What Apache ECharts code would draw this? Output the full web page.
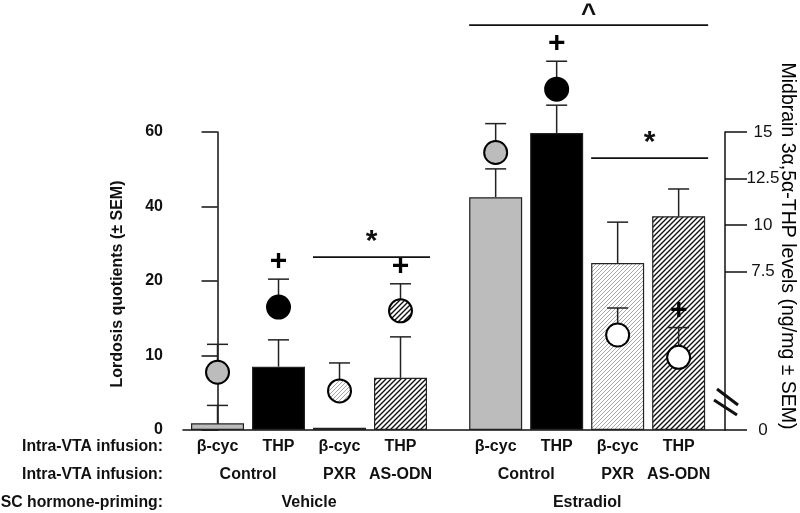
<!DOCTYPE html>
<html>
<head>
<meta charset="utf-8">
<script src="https://cdn.jsdelivr.net/npm/echarts@6/dist/echarts.min.js"></script>
<style>
html, body { margin: 0; padding: 0; background: #fff; }
#chart { width: 800px; height: 513px; }
</style>
</head>
<body>
<div id="chart"></div>
<script>
// groups under the bars
var infusions = ['β-cyc', 'THP', 'β-cyc', 'THP', 'β-cyc', 'THP', 'β-cyc', 'THP']
var treatments = ['Control', 'PXR', 'AS-ODN', 'Control', 'PXR', 'AS-ODN']
var treatmentSlots = [[0, 1], [2], [3], [4, 5], [6], [7]]
var primings = ['Vehicle', 'Estradiol']
var primingSlots = [[0, 1, 2, 3], [4, 5, 6, 7]]

// lordosis quotients (bars, left axis)
var lqMean = [0.9, 8.5, 0.3, 7.0, 42.5, 59.7, 24.8, 37.4]
var lqSem = [2.4, 3.6, 0, 5.5, 7.6, 7.5, 11.0, 7.3]
// midbrain 3a,5a-THP (circles, right axis)
var thpMean = [2.1, 5.6, 1.1, 5.4, 13.9, 17.3, 4.1, 2.9]
var thpSem = [1.5, 1.5, 1.5, 1.45, 1.55, 1.5, 1.45, 1.6]
var thpMarks = ['', '+', '', '+', '', '+', '', '+']

var lqTicks = [0, 10, 20, 40, 60]
var thpTicks = [0, 7.5, 10, 12.5, 15]

// [first slot, last slot, level (LQ), mark]
var brackets = [
	[2, 3, 26.4, '*'],
	[6, 7, 53, '*'],
	[4, 7, 88.7, '^']
]

var FONT = '"Liberation Sans", Arial, sans-serif'
var GROUP_GAP = 0.56
var THP_MIN = -1 // axis is broken below 7.5, "0" sits on the baseline
var BAR_W = 53

function slotX (i) {
	return i + (i >= 4 ? GROUP_GAP : 0)
}
function mid (slots) {
	var s = 0
	slots.forEach(function (i) { s += slotX(i) })
	return s / slots.length
}
// left axis is piecewise: ticks 0,10,20,40,60 equally spaced
function lqPos (v) {
	var n = lqTicks.length
	for (var i = 0; i < n - 1; i++) {
		if (v <= lqTicks[i + 1] || i === n - 2) {
			return i + (v - lqTicks[i]) / (lqTicks[i + 1] - lqTicks[i])
		}
	}
}

function hatch (stroke, width, step) {
	var c = document.createElement('canvas')
	c.width = step
	c.height = step
	var g = c.getContext('2d')
	g.fillStyle = '#fff'
	g.fillRect(0, 0, step, step)
	g.strokeStyle = stroke
	g.lineWidth = width
	g.beginPath()
	g.moveTo(-1, step + 1); g.lineTo(step + 1, -1)
	g.moveTo(-1, 1); g.lineTo(1, -1)
	g.moveTo(step - 1, step + 1); g.lineTo(step + 1, step - 1)
	g.stroke()
	return { image: c, repeat: 'repeat' }
}

var gray = '#bcbcbc'
var black = '#000'
var light = hatch('#a8a8a8', 1, 4)
var dark = hatch('#111', 1.4, 5)
var barFills = [gray, black, light, dark, gray, black, light, dark]
var circleFills = [gray, black, light, dark, gray, black, '#fff', '#fff']

function errorBar (params, api) {
	var p0 = api.coord([api.value(0), api.value(1)])
	var p1 = api.coord([api.value(0), api.value(2)])
	if (Math.abs(p0[1] - p1[1]) < 0.5) return null
	var st = { stroke: '#222', lineWidth: 1.5 }
	return {
		type: 'group',
		children: [
			{ type: 'line', shape: { x1: p0[0], y1: p0[1], x2: p1[0], y2: p1[1] }, style: st },
			{ type: 'line', shape: { x1: p1[0] - 10.5, y1: p1[1], x2: p1[0] + 10.5, y2: p1[1] }, style: st }
		]
	}
}

var labelItems = []
infusions.forEach(function (t, i) { labelItems.push({ x: slotX(i), row: 0, text: t }) })
treatments.forEach(function (t, i) { labelItems.push({ x: mid(treatmentSlots[i]), row: 1, text: t }) })
primings.forEach(function (t, i) { labelItems.push({ x: mid(primingSlots[i]), row: 2, text: t }) })
var rowOffsets = [17, 45, 73]

var myChart = echarts.init(document.getElementById('chart'))

var option = {
	animation: false,
	grid: { left: 183, right: 75, top: 132, bottom: 83 },
	xAxis: {
		type: 'value',
		min: -0.566,
		max: 8.32,
		splitLine: { show: false },
		axisTick: { show: false },
		axisLabel: { show: false },
		axisLine: { show: true, onZero: false, lineStyle: { color: '#111', width: 1.5 } }
	},
	yAxis: [
		{
			type: 'value',
			min: 0,
			max: 4,
			interval: 1,
			splitLine: { show: false },
			axisLine: { show: true, lineStyle: { color: '#111', width: 1.5 } },
			axisTick: { show: true, length: 16, lineStyle: { color: '#111', width: 1.5 } },
			axisLabel: {
				margin: 20,
				fontFamily: FONT,
				fontWeight: 'bold',
				fontSize: 16,
				color: '#111',
				formatter: function (v) { return lqTicks[Math.round(v)] }
			}
		},
		{
			type: 'value',
			position: 'right',
			min: THP_MIN,
			max: 15,
			splitLine: { show: false },
			axisLine: { show: true, lineStyle: { color: '#111', width: 1.5 } },
			axisTick: {
				show: true,
				length: 22,
				lineStyle: { color: '#111', width: 1.5 },
				customValues: thpTicks.map(function (v) { return v === 0 ? THP_MIN : v })
			},
			axisLabel: {
				margin: 38,
				align: 'center',
				fontFamily: FONT,
				fontSize: 17,
				color: '#111',
				customValues: thpTicks.map(function (v) { return v === 0 ? THP_MIN : v }),
				formatter: function (v) { return v === THP_MIN ? '0' : String(v) }
			}
		}
	],
	graphic: [
		{
			type: 'text', x: 118, y: 284, rotation: Math.PI / 2,
			style: { text: 'Lordosis quotients (± SEM)', font: 'bold 16px ' + FONT, fill: '#111', align: 'center', verticalAlign: 'middle' }
		},
		{
			type: 'text', x: 787, y: 246, rotation: -Math.PI / 2,
			style: { text: 'Midbrain 3α,5α-THP levels (ng/mg ± SEM)', font: '19.5px ' + FONT, fill: '#000', align: 'center', verticalAlign: 'middle' }
		},
		{ type: 'text', x: 163, y: 447, style: { text: 'Intra-VTA infusion:', font: 'bold 15.8px ' + FONT, fill: '#111', align: 'right', verticalAlign: 'middle' } },
		{ type: 'text', x: 163, y: 475, style: { text: 'Intra-VTA infusion:', font: 'bold 15.8px ' + FONT, fill: '#111', align: 'right', verticalAlign: 'middle' } },
		{ type: 'text', x: 163, y: 503, style: { text: 'SC hormone-priming:', font: 'bold 15.8px ' + FONT, fill: '#111', align: 'right', verticalAlign: 'middle' } },
		// axis break
		{ type: 'line', shape: { x1: 717, y1: 389, x2: 738, y2: 405 }, style: { stroke: '#111', lineWidth: 3 } },
		{ type: 'line', shape: { x1: 714, y1: 400, x2: 737, y2: 415 }, style: { stroke: '#111', lineWidth: 3 } }
	],
	series: [
		{
			name: 'LQ',
			type: 'bar',
			barWidth: BAR_W,
			clip: false,
			z: 2,
			itemStyle: { borderColor: '#222', borderWidth: 1.2 },
			data: lqMean.map(function (v, i) {
				return { value: [slotX(i), lqPos(v)], itemStyle: { color: barFills[i] } }
			})
		},
		{
			name: 'LQ SEM',
			type: 'custom',
			clip: false,
			z: 3,
			renderItem: errorBar,
			data: lqMean.map(function (v, i) { return [slotX(i), lqPos(v), lqPos(v + lqSem[i])] })
		},
		{
			name: 'THP SEM',
			type: 'custom',
			yAxisIndex: 1,
			clip: false,
			z: 4,
			renderItem: errorBar,
			data: thpMean.map(function (v, i) { return [slotX(i), v, v + thpSem[i]] })
		},
		{
			name: 'THP',
			type: 'custom',
			yAxisIndex: 1,
			clip: false,
			z: 5,
			renderItem: function (params, api) {
				var p = api.coord([api.value(0), api.value(1)])
				return {
					type: 'circle',
					shape: { cx: p[0], cy: p[1], r: 11.5 },
					style: { fill: circleFills[params.dataIndex], stroke: '#000', lineWidth: 2 }
				}
			},
			data: thpMean.map(function (v, i) { return [slotX(i), v] })
		},
		{
			name: 'THP marks',
			type: 'custom',
			yAxisIndex: 1,
			clip: false,
			z: 6,
			renderItem: function (params, api) {
				var m = thpMarks[params.dataIndex]
				if (!m) return null
				var p = api.coord([api.value(0), api.value(1)])
				return {
					type: 'text', x: p[0], y: p[1] - 17,
					style: { text: m, font: 'bold 30px ' + FONT, fill: '#000', align: 'center', verticalAlign: 'middle' }
				}
			},
			data: thpMean.map(function (v, i) { return [slotX(i), v + thpSem[i]] })
		},
		{
			name: 'significance',
			type: 'custom',
			clip: false,
			z: 6,
			renderItem: function (params, api) {
				var b = brackets[params.dataIndex]
				var a = api.coord([api.value(0), api.value(2)])
				var c = api.coord([api.value(1), api.value(2)])
				var x1 = a[0] - BAR_W / 2
				var x2 = c[0] + BAR_W / 2 + 3
				var caret = b[3] === '^'
				return {
					type: 'group',
					children: [
						{ type: 'line', shape: { x1: x1, y1: a[1], x2: x2, y2: a[1] }, style: { stroke: '#111', lineWidth: 1.8 } },
						{
							type: 'text', x: (x1 + x2) / 2, y: a[1] - (caret ? 23 : 30),
							style: { text: b[3], font: 'bold ' + (caret ? 26 : 30) + 'px ' + FONT, fill: '#111', align: 'center', verticalAlign: 'top' }
						}
					]
				}
			},
			data: brackets.map(function (b) { return [slotX(b[0]), slotX(b[1]), lqPos(b[2])] })
		},
		{
			name: 'labels',
			type: 'custom',
			clip: false,
			z: 6,
			renderItem: function (params, api) {
				var d = labelItems[params.dataIndex]
				var p = api.coord([d.x, 0])
				return {
					type: 'text', x: p[0], y: p[1] + rowOffsets[d.row],
					style: { text: d.text, font: 'bold 16px ' + FONT, fill: '#111', align: 'center', verticalAlign: 'middle' }
				}
			},
			data: labelItems.map(function (d) { return [d.x, d.row] })
		}
	]
}

myChart.setOption(option)
</script>
</body>
</html>
